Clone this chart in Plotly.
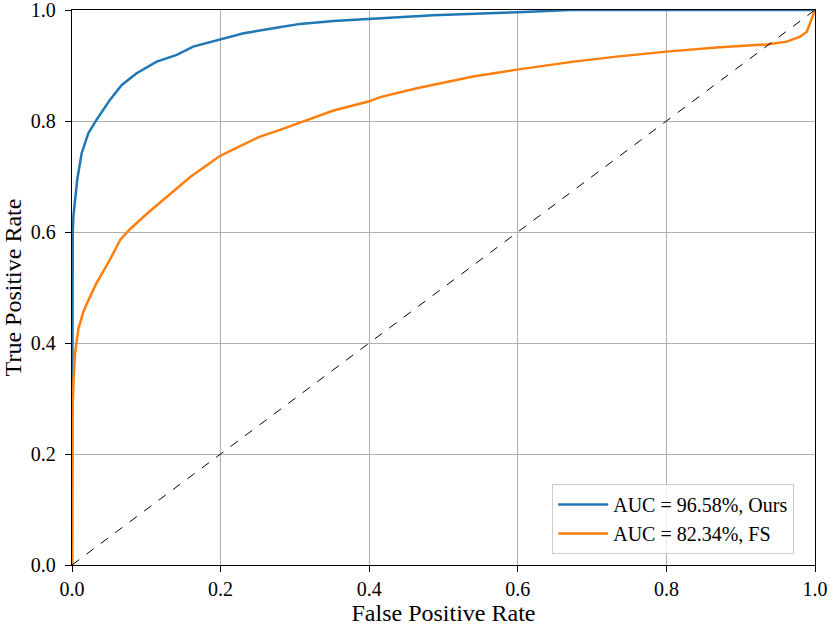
import plotly.graph_objects as go

# ROC curve points
ours_fpr = [0, 0, 0.0005, 0.001, 0.002, 0.004, 0.007, 0.013, 0.022, 0.033, 0.051, 0.067,
            0.087, 0.114, 0.141, 0.163, 0.199, 0.231, 0.275, 0.307, 0.352, 0.400, 0.486,
            0.600, 0.670, 1.0]
ours_tpr = [0, 0.30, 0.45, 0.60, 0.63, 0.658, 0.694, 0.742, 0.778, 0.802, 0.838, 0.865,
            0.886, 0.907, 0.919, 0.934, 0.946, 0.958, 0.968, 0.975, 0.980, 0.984, 0.9905,
            0.996, 1.0, 1.0]

fs_fpr = [0, 0, 0.0005, 0.002, 0.004, 0.0085, 0.015, 0.020, 0.033, 0.051, 0.065, 0.078,
          0.100, 0.123, 0.160, 0.199, 0.253, 0.280, 0.316, 0.352, 0.399, 0.415, 0.464,
          0.540, 0.601, 0.675, 0.733, 0.800, 0.872, 0.935, 0.962, 0.980, 0.989, 0.995, 1.0]
fs_tpr = [0, 0.20, 0.27, 0.33, 0.38, 0.425, 0.455, 0.471, 0.508, 0.550, 0.586, 0.605,
          0.632, 0.658, 0.700, 0.737, 0.772, 0.784, 0.802, 0.819, 0.835, 0.843, 0.859,
          0.880, 0.893, 0.907, 0.916, 0.925, 0.933, 0.938, 0.943, 0.952, 0.961, 0.982, 1.0]

chance = [0, 1]

labels = ["AUC = 96.58%, Ours", "AUC = 82.34%, FS"]
tick_vals = [0, 0.2, 0.4, 0.6, 0.8, 1.0]

font = "Liberation Serif, Times New Roman, serif"

fig = go.Figure()
fig.add_trace(go.Scatter(x=ours_fpr, y=ours_tpr, mode="lines", name=labels[0],
                         line=dict(color="#1f77b4", width=2.5)))
fig.add_trace(go.Scatter(x=fs_fpr, y=fs_tpr, mode="lines", name=labels[1],
                         line=dict(color="#ff7f0e", width=2.5)))
fig.add_trace(go.Scatter(x=chance, y=chance, mode="lines", showlegend=False,
                         line=dict(color="black", width=1, dash="dash")))

axis = dict(range=[0, 1], tickvals=tick_vals, tickformat=".1f", automargin=False,
            ticklabeloverflow="allow",
            showgrid=True, gridcolor="#b0b0b0", gridwidth=1.2,
            showline=True, linecolor="black", linewidth=1.3, mirror=True,
            ticks="outside", ticklen=6, tickcolor="black", zeroline=False,
            tickfont=dict(size=20, color="black"))

fig.update_layout(
    width=831, height=626,
    margin=dict(l=72, r=16, t=10, b=61),
    paper_bgcolor="white", plot_bgcolor="white",
    font=dict(family=font, size=20, color="black"),
    xaxis=dict(axis, ticklabelstandoff=0, title=dict(text="False Positive Rate", standoff=0)),
    yaxis=dict(axis, ticklabelstandoff=5, title=dict(text="True Positive Rate", standoff=6)),
    legend=dict(x=0.972, y=0.02, xanchor="right", yanchor="bottom", itemwidth=50,
                bgcolor="rgba(255,255,255,0.8)", bordercolor="#cccccc", borderwidth=1,
                font=dict(size=20)),
)

# drop the page's default body margin so the figure sits at the window's corner
fig.write_html("out.html", config={"displayModeBar": False},
               post_script="document.body.style.margin='0';")
